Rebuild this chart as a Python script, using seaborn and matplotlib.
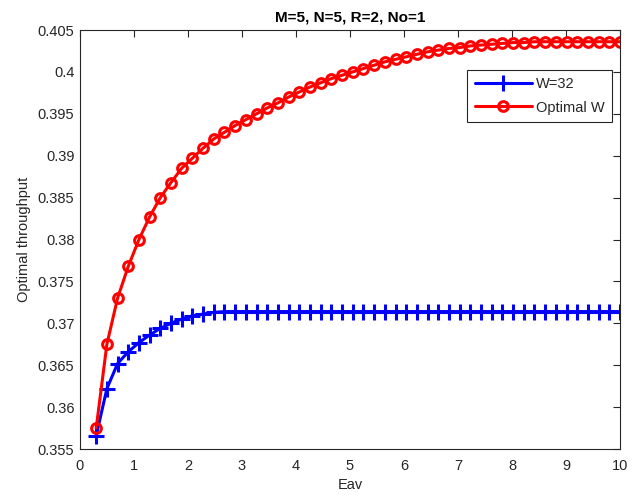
import numpy as np
import pandas as pd
import matplotlib
matplotlib.use('Agg')
import matplotlib.pyplot as plt
import matplotlib.ticker as mticker
import seaborn as sns

# Eav grid: 50 points between 0.3 and 10
eav = np.linspace(0.3, 10, 50)

w32 = [0.3566, 0.3622, 0.3652, 0.3666, 0.3677, 0.3686, 0.3694, 0.3700, 0.3705, 0.3709,
       0.3711, 0.3713, 0.3714] + [0.3714] * 37

opt_w = [0.3575, 0.3675, 0.3730, 0.3768, 0.3800, 0.3827, 0.3850, 0.3868, 0.3885, 0.3897,
         0.3909, 0.3920, 0.3928, 0.3936, 0.3943, 0.3950, 0.3957, 0.3963, 0.3970, 0.3976,
         0.3982, 0.3987, 0.3992, 0.3996, 0.4000, 0.4004, 0.4008, 0.4012, 0.4015, 0.4018,
         0.4021, 0.4024, 0.4026, 0.4028, 0.4029, 0.4031, 0.4032, 0.4033, 0.4034, 0.4035,
         0.4035, 0.4036, 0.4036, 0.4036, 0.4036, 0.4036, 0.4036, 0.4036, 0.4036, 0.4036]

sns.set_style('white')
plt.rcParams['font.family'] = ['Liberation Sans', 'DejaVu Sans']
dark = '#262626'

fig = plt.figure(figsize=(6.41, 4.99), dpi=100)
ax = fig.add_axes([80 / 641, 1 - 449 / 499, 540 / 641, 419 / 499])

sns.lineplot(x=eav, y=w32, ax=ax, color='blue', linewidth=2.2,
             marker='+', markersize=11, markeredgewidth=2.2,
             markeredgecolor='blue', label='W=32')
sns.lineplot(x=eav, y=opt_w, ax=ax, color='red', linewidth=2.2,
             marker='o', markersize=7, markeredgewidth=2.2,
             markeredgecolor='red', markerfacecolor='none', label='Optimal W')

ax.set_xlim(0, 10)
ax.set_ylim(0.355, 0.405)
ax.set_xticks(range(0, 11))
ax.set_yticks(np.arange(0.355, 0.4051, 0.005))
ax.yaxis.set_major_formatter(mticker.FuncFormatter(lambda v, p: '%g' % round(v, 3)))
ax.tick_params(direction='in', top=True, right=True, length=5, width=0.8,
               colors=dark, labelsize=10.5)
ax.tick_params(axis='x', pad=7)
ax.tick_params(axis='y', pad=4)
for s in ax.spines.values():
    s.set_visible(True)
    s.set_color(dark)
    s.set_linewidth(0.8)

ax.set_xlabel('Eav', fontsize=10.5, color=dark, labelpad=4)
ax.set_ylabel('Optimal throughput', fontsize=10.5, color=dark, labelpad=5)
ax.set_title('M=5, N=5, R=2, No=1', fontsize=11, fontweight='bold', color='black', pad=6)

leg = ax.legend(loc='upper right', bbox_to_anchor=(0.985, 0.905), borderaxespad=0,
                fancybox=False, edgecolor=dark, framealpha=1, fontsize=10.5,
                handlelength=3.9, borderpad=0.5, labelspacing=0.65, handletextpad=0.3)
leg.get_frame().set_linewidth(0.8)

fig.savefig('out.png', dpi=100)
